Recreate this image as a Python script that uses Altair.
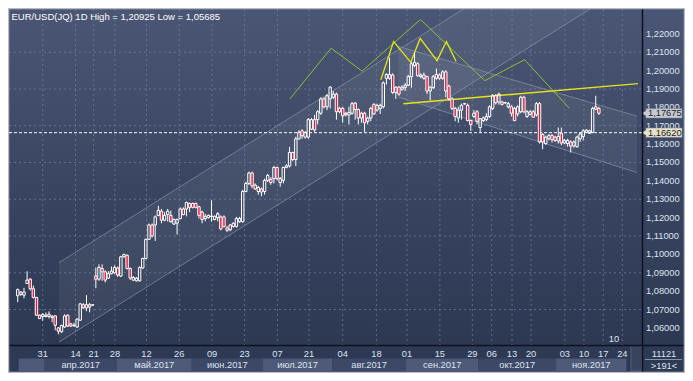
import altair as alt
import pandas as pd

# ---------------- data ----------------
opens = [1.0775,1.0795,1.0778,1.0842,1.0865,1.0813,1.0766,1.0669,1.0662,1.0662,1.0674,1.0657,1.0666,1.0600,1.0579,1.0605,1.0669,1.0622,1.0612,1.0605,
         1.0642,1.0726,1.0709,1.0726,1.0724,1.0882,1.0865,1.0923,1.0905,1.0871,1.0895,1.0900,1.0926,1.0882,1.0987,1.0995,1.0923,1.0860,1.0856,1.0856,
         1.0926,1.0978,1.1082,1.1160,1.1160,1.1212,1.1235,1.1186,1.1217,1.1212,1.1165,1.1170,1.1195,1.1247,1.1247,1.1277,1.1277,1.1277,1.1259,1.1230,
         1.1195,1.1200,1.1206,1.1190,1.1200,1.1204,1.1204,1.1144,1.1134,1.1169,1.1152,1.1178,1.1178,1.1342,1.1386,1.1443,1.1377,1.1342,1.1356,1.1342,
         1.1403,1.1408,1.1412,1.1473,1.1391,1.1403,1.1473,1.1481,1.1554,1.1516,1.1628,1.1672,1.1638,1.1638,1.1681,1.1733,1.1733,1.1768,1.1846,1.1803,
         1.1846,1.1855,1.1872,1.1794,1.1794,1.1759,1.1759,1.1768,1.1823,1.1788,1.1742,1.1768,1.1724,1.1742,1.1816,1.1785,1.1794,1.1803,1.1958,1.1958,
         1.1976,1.1881,1.1910,1.1898,1.1907,1.1920,1.1967,1.2028,1.2037,1.1967,1.1958,1.1967,1.1889,1.1907,1.1958,1.1976,1.1958,1.1993,1.1915,1.1846,
         1.1794,1.1742,1.1785,1.1818,1.1811,1.1728,1.1750,1.1776,1.1690,1.1728,1.1733,1.1750,1.1794,1.1863,1.1829,1.1829,1.1824,1.1803,1.1803,1.1794,
         1.1764,1.1776,1.1855,1.1750,1.1762,1.1776,1.1759,1.1820,1.1652,1.1603,1.1629,1.1646,1.1638,1.1617,1.1659,1.1606,1.1603,1.1612,1.1590,1.1586,
         1.1629,1.1641,1.1664,1.1659,1.1664,1.1790,1.1794]
highs = [1.0815,1.0800,1.0818,1.0908,1.0870,1.0830,1.0769,1.0673,1.0679,1.0684,1.0690,1.0669,1.0669,1.0605,1.0618,1.0674,1.0674,1.0627,1.0628,1.0652,
         1.0735,1.0735,1.0778,1.0735,1.0728,1.0929,1.0946,1.0946,1.0914,1.0909,1.0934,1.0940,1.0934,1.0992,1.1004,1.0999,1.0929,1.0882,1.0877,1.0934,
         1.0982,1.1086,1.1168,1.1168,1.1212,1.1264,1.1247,1.1230,1.1247,1.1238,1.1195,1.1195,1.1256,1.1256,1.1287,1.1282,1.1282,1.1282,1.1264,1.1238,
         1.1221,1.1217,1.1294,1.1212,1.1230,1.1212,1.1212,1.1155,1.1165,1.1175,1.1204,1.1204,1.1351,1.1395,1.1450,1.1450,1.1386,1.1373,1.1364,1.1412,
         1.1438,1.1421,1.1482,1.1477,1.1421,1.1477,1.1490,1.1585,1.1559,1.1640,1.1676,1.1681,1.1670,1.1742,1.1742,1.1759,1.1785,1.1855,1.1855,1.1872,
         1.1915,1.1889,1.1880,1.1803,1.1803,1.1776,1.1803,1.1829,1.1829,1.1794,1.1776,1.1776,1.1750,1.1803,1.1823,1.1820,1.1820,1.1941,1.1985,1.2071,
         1.1985,1.1915,1.1915,1.1920,1.1932,1.1976,1.2045,1.2097,1.2045,1.1985,1.1989,1.1972,1.1915,1.1976,1.2011,1.1985,1.2002,1.2002,1.1924,1.1855,
         1.1803,1.1803,1.1820,1.1824,1.1820,1.1733,1.1785,1.1785,1.1742,1.1750,1.1768,1.1811,1.1872,1.1872,1.1880,1.1836,1.1830,1.1829,1.1811,1.1803,
         1.1811,1.1863,1.1863,1.1785,1.1785,1.1785,1.1829,1.1829,1.1659,1.1646,1.1655,1.1655,1.1645,1.1690,1.1690,1.1628,1.1629,1.1620,1.1620,1.1646,
         1.1664,1.1681,1.1681,1.1678,1.1803,1.1863,1.1803]
lows = [1.0740,1.0775,1.0761,1.0841,1.0804,1.0760,1.0665,1.0648,1.0639,1.0657,1.0651,1.0631,1.0587,1.0565,1.0573,1.0600,1.0605,1.0605,1.0605,1.0600,
        1.0639,1.0704,1.0691,1.0685,1.0722,1.0816,1.0856,1.0856,1.0848,1.0866,1.0891,1.0895,1.0877,1.0877,1.0982,1.0918,1.0861,1.0856,1.0853,1.0853,
        1.0921,1.0973,1.1079,1.1092,1.1073,1.1207,1.1169,1.1180,1.1178,1.1172,1.1160,1.1108,1.1190,1.1212,1.1207,1.1230,1.1250,1.1250,1.1195,1.1169,
        1.1180,1.1195,1.1178,1.1185,1.1180,1.1131,1.1146,1.1121,1.1126,1.1146,1.1146,1.1172,1.1172,1.1338,1.1377,1.1360,1.1351,1.1325,1.1316,1.1325,
        1.1394,1.1379,1.1386,1.1403,1.1368,1.1386,1.1468,1.1473,1.1507,1.1481,1.1624,1.1629,1.1630,1.1629,1.1676,1.1667,1.1707,1.1759,1.1794,1.1785,
        1.1794,1.1846,1.1733,1.1768,1.1716,1.1750,1.1707,1.1759,1.1733,1.1707,1.1716,1.1667,1.1707,1.1724,1.1759,1.1776,1.1764,1.1794,1.1924,1.1950,
        1.1872,1.1846,1.1863,1.1890,1.1889,1.1915,1.1907,1.2019,1.1967,1.1958,1.1950,1.1872,1.1837,1.1900,1.1950,1.1950,1.1950,1.1855,1.1837,1.1785,
        1.1724,1.1716,1.1733,1.1815,1.1724,1.1672,1.1742,1.1707,1.1664,1.1720,1.1724,1.1742,1.1785,1.1815,1.1815,1.1810,1.1820,1.1794,1.1750,1.1724,
        1.1750,1.1768,1.1768,1.1742,1.1755,1.1742,1.1750,1.1603,1.1572,1.1595,1.1620,1.1609,1.1612,1.1603,1.1594,1.1600,1.1586,1.1554,1.1580,1.1580,
        1.1612,1.1620,1.1660,1.1655,1.1659,1.1785,1.1758]
closes = [1.0808,1.0782,1.0795,1.0860,1.0813,1.0766,1.0669,1.0651,1.0674,1.0669,1.0662,1.0664,1.0614,1.0582,1.0613,1.0665,1.0610,1.0610,1.0614,1.0648,
          1.0731,1.0709,1.0726,1.0713,1.0726,1.0865,1.0929,1.0905,1.0860,1.0895,1.0909,1.0929,1.0888,1.0987,1.0999,1.0923,1.0871,1.0874,1.0871,1.0929,
          1.0978,1.1082,1.1160,1.1100,1.1204,1.1239,1.1186,1.1212,1.1235,1.1178,1.1190,1.1190,1.1247,1.1217,1.1282,1.1256,1.1256,1.1256,1.1212,1.1190,
          1.1207,1.1212,1.1208,1.1207,1.1221,1.1138,1.1152,1.1131,1.1160,1.1152,1.1195,1.1195,1.1342,1.1386,1.1443,1.1373,1.1356,1.1364,1.1339,1.1403,
          1.1429,1.1391,1.1473,1.1412,1.1412,1.1473,1.1482,1.1554,1.1516,1.1628,1.1664,1.1646,1.1664,1.1733,1.1733,1.1677,1.1776,1.1846,1.1803,1.1863,
          1.1910,1.1872,1.1776,1.1776,1.1754,1.1768,1.1772,1.1820,1.1788,1.1742,1.1768,1.1716,1.1742,1.1794,1.1764,1.1811,1.1811,1.1933,1.1979,1.1979,
          1.1881,1.1910,1.1872,1.1910,1.1920,1.1967,1.2037,1.2045,1.1972,1.1976,1.1976,1.1889,1.1910,1.1967,1.1979,1.1958,1.1993,1.1889,1.1846,1.1794,
          1.1750,1.1785,1.1811,1.1820,1.1728,1.1707,1.1768,1.1724,1.1738,1.1742,1.1750,1.1803,1.1863,1.1825,1.1872,1.1816,1.1826,1.1820,1.1768,1.1728,
          1.1803,1.1855,1.1776,1.1776,1.1776,1.1746,1.1820,1.1612,1.1612,1.1638,1.1646,1.1624,1.1620,1.1641,1.1606,1.1620,1.1620,1.1589,1.1612,1.1638,
          1.1655,1.1672,1.1676,1.1672,1.1794,1.1803,1.1768]

day_labels = ["31", "14", "21", "28", "12", "26", "09", "23", "07", "21", "04",
              "18", "01", "15", "29", "06", "13", "20", "03", "10", "17", "24"]
day_pos = [8.0, 18.5, 24.3, 31.1, 41.2, 51.7, 62.2, 72.6, 83.1, 93.2, 104.0,
           114.8, 124.6, 135.1, 145.5, 151.7, 158.2, 164.3, 175.1, 181.2, 187.4, 193.5]
month_labels = ["", "апр.2017", "май.2017", "июн.2017", "июл.2017",
                "авг.2017", "сен.2017", "окт.2017", "ноя.2017"]
month_start = [0.3, 8.6, 31.7, 55.7, 78.5, 100.6, 124.3, 147.4, 172.3]
month_end = [8.6, 31.7, 55.7, 78.5, 100.6, 124.3, 147.4, 172.3, 194.8]
y_ticks = [1.06, 1.07, 1.08, 1.09, 1.10, 1.11, 1.12, 1.13, 1.14,
           1.15, 1.16, 1.17, 1.18, 1.19, 1.20, 1.21, 1.22]
grid_prices = [1.07, 1.09, 1.11, 1.13, 1.15, 1.17, 1.19, 1.21]

# drawn analysis objects (index, price)
asc_x = [13.2, 198.2]
asc_upper = [1.0955, 1.2927]
asc_lower = [1.0523, 1.2495]
desc_x = [121.8, 198.2]
desc_upper = [1.2132, 1.1752]
desc_lower = [1.1856, 1.1445]
hs_x = [116.2, 120.3, 125.8, 128.8, 134.2, 137.2, 140.3]
hs_p = [1.1950, 1.2158, 1.2045, 1.2175, 1.2054, 1.2158, 1.2049]
neck_x = [123.4, 198.5]
neck_p = [1.1820, 1.1929]
green_x = [87.1, 100.3, 110.2, 128.9, 149.5, 162.2, 176.6]
green_p = [1.1846, 1.2122, 1.1997, 1.2278, 1.1945, 1.2059, 1.1794]
price_line = 1.1662
last_price = 1.17675
title_text = "EUR/USD(JQ) 1D High = 1,20925 Low = 1,05685"

# ---------------- layout ----------------
W, H = 633, 336
PR, PB = 43, 28
FONT = "Liberation Sans"
TXT = "#dde4f0"

xs = alt.Scale(domain=[-1.2, 198.2], nice=False, zero=False)
ys = alt.Scale(domain=[1.0507, 1.2335], nice=False, zero=False)


def X(f):
    return alt.X(f, type="quantitative", scale=xs, axis=None)


def Y(f):
    return alt.Y(f, type="quantitative", scale=ys, axis=None)


one = pd.DataFrame({"a": [0]})

candles = pd.DataFrame({"i": list(range(len(closes))), "o": opens, "h": highs,
                        "l": lows, "c": closes})

bg = alt.Chart(one).mark_rect(
    fill=alt.Gradient(gradient="linear",
                      stops=[alt.GradientStop(offset=0, color="#4a5673"),
                             alt.GradientStop(offset=0.5, color="#3a4662"),
                             alt.GradientStop(offset=1, color="#2d3852")],
                      x1=0, x2=0, y1=0, y2=1)
).encode(x=alt.value(-1), x2=alt.value(W + PR), y=alt.value(-1), y2=alt.value(H))

strip = alt.Chart(one).mark_rect(fill="#2e3954").encode(
    x=alt.value(-1), x2=alt.value(W + PR), y=alt.value(H), y2=alt.value(H + PB))

months = pd.DataFrame({"m": month_labels, "s": month_start, "e": month_end,
                       "k": list(range(len(month_labels)))})
month_rects = alt.Chart(months).mark_rect().encode(
    x=X("s"), x2="e", y=alt.value(349.5), y2=alt.value(362),
    fill=alt.condition("datum.k % 2 == 0", alt.value("#4e5a78"), alt.value("#3c4866")))
month_text = alt.Chart(months).transform_calculate(mid="(datum.s + datum.e) / 2").mark_text(
    font=FONT, fontSize=9.3, color=TXT, baseline="middle").encode(
    x=X("mid"), y=alt.value(355.5), text="m:N")

scroll = alt.Chart(one).mark_rect(fill="#3a4560", opacity=0.85, stroke="#56627c").encode(
    x=alt.value(622), x2=alt.value(633), y=alt.value(H + 0.5), y2=alt.value(H + 26))

asc_df = pd.DataFrame({"x": asc_x, "u": asc_upper, "lo": asc_lower})
asc_fill = alt.Chart(asc_df).mark_area(clip=True, color="white", opacity=0.06).encode(
    x=X("x"), y=Y("u"), y2="lo")
asc_l1 = alt.Chart(asc_df).mark_line(clip=True, color="#9aa5bb", opacity=0.55, strokeWidth=1).encode(
    x=X("x"), y=Y("u"))
asc_l2 = alt.Chart(asc_df).mark_line(clip=True, color="#9aa5bb", opacity=0.55, strokeWidth=1).encode(
    x=X("x"), y=Y("lo"))

desc_df = pd.DataFrame({"x": desc_x, "u": desc_upper, "lo": desc_lower})
desc_fill = alt.Chart(desc_df).mark_area(clip=True, color="white", opacity=0.06).encode(
    x=X("x"), y=Y("u"), y2="lo")
desc_l1 = alt.Chart(desc_df).mark_line(clip=True, color="#9aa5bb", opacity=0.55, strokeWidth=1).encode(
    x=X("x"), y=Y("u"))
desc_l2 = alt.Chart(desc_df).mark_line(clip=True, color="#9aa5bb", opacity=0.55, strokeWidth=1).encode(
    x=X("x"), y=Y("lo"))

hgrid = alt.Chart(pd.DataFrame({"p": grid_prices})).mark_rule(
    color="#7481a0", strokeDash=[2, 3], opacity=0.7).encode(
    y=Y("p"), x=alt.value(0), x2=alt.value(W))
days = pd.DataFrame({"d": day_labels, "x": day_pos})
vgrid = alt.Chart(days).mark_rule(color="#7481a0", strokeDash=[2, 3], opacity=0.7).encode(
    x=X("x"), y=alt.value(0), y2=alt.value(H))

green = alt.Chart(pd.DataFrame({"x": green_x, "p": green_p, "o": list(range(len(green_x)))})).mark_line(
    clip=True, color="#8fbf3a", strokeWidth=1).encode(x=X("x"), y=Y("p"), order="o:Q")
hs = alt.Chart(pd.DataFrame({"x": hs_x, "p": hs_p, "o": list(range(len(hs_x)))})).mark_line(
    clip=True, color="#e4e41a", strokeWidth=1.3).encode(x=X("x"), y=Y("p"), order="o:Q")
neck = alt.Chart(pd.DataFrame({"x": neck_x, "p": neck_p})).mark_line(
    clip=True, color="#e4e41a", strokeWidth=1.5).encode(x=X("x"), y=Y("p"))

pline = alt.Chart(pd.DataFrame({"p": [price_line]})).mark_rule(
    color="white", strokeDash=[3, 2], strokeWidth=1).encode(
    y=Y("p"), x=alt.value(0), x2=alt.value(W))

cb = alt.Chart(candles).transform_calculate(
    top="max(datum.o, datum.c)", bot="min(datum.o, datum.c)")
wick_hi = cb.mark_rule(color="white", strokeWidth=1).encode(x=X("i"), y=Y("h"), y2="top:Q")
wick_lo = cb.mark_rule(color="white", strokeWidth=1).encode(x=X("i"), y=Y("bot"), y2="l:Q")
bodies = cb.mark_bar(size=2.4, stroke="white", strokeWidth=1).encode(
    x=X("i"), y=Y("o"), y2="c:Q",
    fill=alt.condition("datum.c < datum.o", alt.value("#e3173f"), alt.value("transparent")))

ylabels = alt.Chart(pd.DataFrame({"v": y_ticks})).transform_calculate(
    lab="replace(format(datum.v, '.5f'), '.', ',')").mark_text(
    font=FONT, fontSize=9.3, color=TXT, align="left", baseline="middle").encode(
    x=alt.value(W + 4), y=Y("v"), text="lab:N")

day_text = alt.Chart(days).mark_text(font=FONT, fontSize=9.3, color=TXT, baseline="middle").encode(
    x=X("x"), y=alt.value(345), text="d:N")

boxes = pd.DataFrame({"p": [last_price, price_line], "k": [0, 1]})
box_c = alt.Chart(boxes).transform_calculate(
    t="datum.p + 0.0025", b="datum.p - 0.0025",
    lab="replace(format(datum.p, '.5f'), '.', ',')")
box_rect = box_c.mark_rect(stroke="#8a8f98", strokeWidth=0.5).encode(
    x=alt.value(W + 4), x2=alt.value(W + 40), y=Y("t"), y2="b:Q",
    fill=alt.condition("datum.k == 0", alt.value("#c6cad2"), alt.value("#e6e2cc")))
box_tri = box_c.mark_point(shape="triangle-left", filled=True, size=40, opacity=1).encode(
    x=alt.value(W + 2.5), y=Y("p"),
    fill=alt.condition("datum.k == 0", alt.value("#c6cad2"), alt.value("#e6e2cc")),
    stroke=alt.value(None))
box_text = box_c.mark_text(font=FONT, fontSize=9.3, color="#1c1c1c", align="left", baseline="middle").encode(
    x=alt.value(W + 6), y=Y("p"), text="lab:N")

title = alt.Chart(pd.DataFrame({"t": [title_text]})).mark_text(
    font=FONT, fontSize=9.5, color="white", align="left", baseline="top").encode(
    x=alt.value(2.5), y=alt.value(3), text="t:N")
ten = alt.Chart(pd.DataFrame({"t": ["10"]})).mark_text(
    font=FONT, fontSize=9.3, color=TXT, baseline="middle").encode(
    x=alt.value(605), y=alt.value(330), text="t:N")
corner1 = alt.Chart(pd.DataFrame({"t": ["11121"]})).mark_text(
    font=FONT, fontSize=9.3, color=TXT, baseline="middle").encode(
    x=alt.value(W + 22), y=alt.value(345), text="t:N")
corner2 = alt.Chart(pd.DataFrame({"t": [">191<"]})).mark_text(
    font=FONT, fontSize=9.3, color=TXT, baseline="middle").encode(
    x=alt.value(W + 22), y=alt.value(356.5), text="t:N")
corner_line = alt.Chart(one).mark_rule(color="#8793ab", strokeWidth=1).encode(
    x=alt.value(W + 3), x2=alt.value(W + 40), y=alt.value(350.5))

sep_v = alt.Chart(one).mark_rule(color="#0e1220", strokeWidth=1.5).encode(
    x=alt.value(W + 0.5), y=alt.value(-1), y2=alt.value(H + PB))
sep_h = alt.Chart(one).mark_rule(color="#0e1220", strokeWidth=1.5).encode(
    y=alt.value(H + 0.5), x=alt.value(-1), x2=alt.value(W + PR))
border = alt.Chart(one).mark_rect(filled=False, stroke="#b4bac6", strokeWidth=1.5).encode(
    x=alt.value(-0.5), x2=alt.value(W + PR - 0.5), y=alt.value(-0.5), y2=alt.value(H + PB - 0.5))

chart = alt.layer(
    bg, strip, month_rects, month_text, scroll,
    asc_fill, desc_fill, hgrid, vgrid, asc_l1, asc_l2, desc_l1, desc_l2,
    green, hs, neck, pline, wick_hi, wick_lo, bodies,
    ylabels, day_text, box_rect, box_tri, box_text, title, ten,
    corner1, corner2, corner_line, sep_v, sep_h, border
).properties(
    width=W, height=H,
    padding={"left": 1, "top": 1, "right": PR, "bottom": PB},
    autosize=alt.AutoSizeParams(type="none"),
    background="#2e3954"
).configure_view(stroke=None)

chart.save("out.html", embed_options={"renderer": "svg", "actions": False})
